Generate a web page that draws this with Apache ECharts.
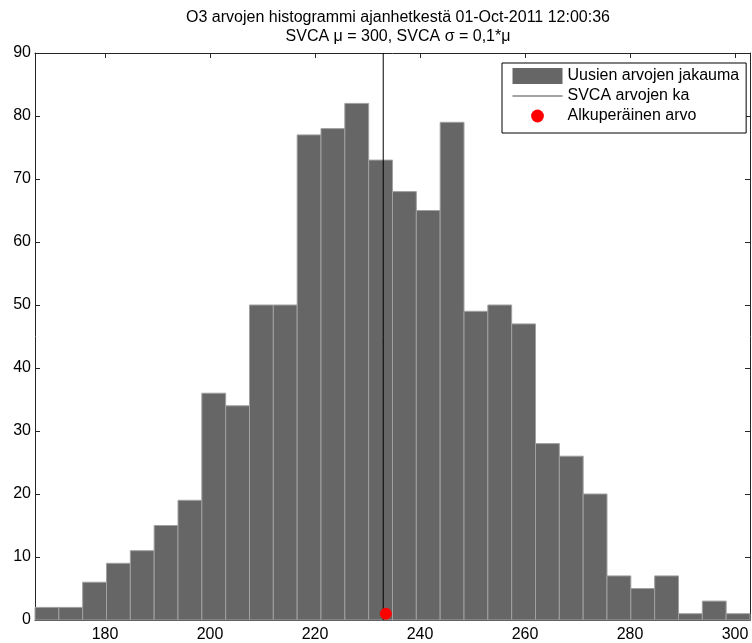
<!DOCTYPE html>
<html><head><meta charset="utf-8">
<script src="https://cdn.jsdelivr.net/npm/echarts@6/dist/echarts.min.js"></script>
<style>html,body{margin:0;padding:0;background:#fff}#c{width:752px;height:643px}</style>
</head><body><div id="c"></div>
<script>
// Histogram: data range (axis tight to min/max of the values), 30 bins
const dataMin = 166.67;
const dataMax = 302.86;
const counts = [2, 2, 6, 9, 11, 15, 19, 36, 34, 50, 50, 77, 78, 82, 73, 68, 65, 79, 49, 50, 47, 28, 26, 20, 7, 5, 7, 1, 3, 1];
const meanValue = 233.0;
const originalValue = [233.5, 1];
const xTickValues = [180, 200, 220, 240, 260, 280, 300];
const yMax = 90;
const yStep = 10;
const titleLines = ['O3 arvojen histogrammi ajanhetkestä 01-Oct-2011 12:00:36', 'SVCA \u03bc = 300, SVCA \u03c3 = 0,1*\u03bc'];
const legendNames = ['Uusien arvojen jakauma', 'SVCA arvojen ka', 'Alkuperäinen arvo'];

const binW = (dataMax - dataMin) / counts.length;
const histData = counts.map((c, i) => [dataMin + i * binW, dataMin + (i + 1) * binW, c]);

const FONT = 'Liberation Sans, Arial, sans-serif';
const AX = '#262626';
const chart = echarts.init(document.getElementById('c'));
const baseX = {
  type: 'value', min: dataMin, max: dataMax,
  axisLine: { show: true, onZero: false, lineStyle: { color: AX, width: 1 } },
  axisTick: { show: true, inside: true, length: 5, customValues: xTickValues, lineStyle: { color: AX } },
  splitLine: { show: false }
};
const baseY = {
  type: 'value', min: 0, max: yMax, interval: yStep,
  axisLine: { show: true, onZero: false, lineStyle: { color: AX, width: 1 } },
  axisTick: { show: true, inside: true, length: 5, lineStyle: { color: AX } },
  splitLine: { show: false }
};
chart.setOption({
  animation: false,
  backgroundColor: '#fff',
  title: {
    text: titleLines.join('\n'),
    left: 393, top: 3, textAlign: 'center',
    textStyle: { fontFamily: FONT, fontSize: 16, fontWeight: 'normal', color: '#000', lineHeight: 19 }
  },
  grid: { left: 35, right: 2, top: 53, bottom: 23, containLabel: false },
  legend: {
    orient: 'vertical', left: 502, top: 63,
    backgroundColor: '#fff', borderColor: '#000', borderWidth: 1, borderRadius: 0,
    padding: [5, 7, 9, 10], itemGap: 4, itemWidth: 50, itemHeight: 16,
    textStyle: { fontFamily: FONT, fontSize: 16, color: '#000' },
    data: [
      { name: legendNames[0], icon: 'rect' },
      { name: legendNames[1], itemStyle: { opacity: 0 }, lineStyle: { width: 1, color: '#444' } },
      { name: legendNames[2] }
    ],
    selectedMode: false
  },
  xAxis: [
    Object.assign({}, baseX, {
      position: 'bottom',
      axisLabel: { show: true, customValues: xTickValues, margin: 7, fontFamily: FONT, fontSize: 16, color: '#000' }
    }),
    Object.assign({}, baseX, { position: 'top', axisLabel: { show: false } })
  ],
  yAxis: [
    Object.assign({}, baseY, {
      position: 'left',
      axisLabel: { show: true, margin: 4, fontFamily: FONT, fontSize: 16, color: '#000' }
    }),
    Object.assign({}, baseY, { position: 'right', axisLabel: { show: false } })
  ],
  series: [
    {
      name: legendNames[0], type: 'custom', xAxisIndex: 0, yAxisIndex: 0,
      itemStyle: { color: '#666666' },
      encode: { x: [0, 1], y: 2 },
      data: histData,
      renderItem: function (params, api) {
        const p0 = api.coord([api.value(0), 0]);
        const p1 = api.coord([api.value(1), api.value(2)]);
        return {
          type: 'rect',
          shape: { x: p0[0], y: p1[1], width: p1[0] - p0[0], height: p0[1] - p1[1] },
          style: { fill: '#666666', stroke: '#a0a0a0', lineWidth: 1 }
        };
      },
      z: 2
    },
    {
      name: legendNames[1], type: 'line', symbol: 'none',
      data: [[meanValue, 0], [meanValue, yMax]],
      lineStyle: { color: '#000', width: 1 }, itemStyle: { color: '#000' },
      z: 3
    },
    {
      name: legendNames[2], type: 'line', symbol: 'circle', symbolSize: 12,
      data: [originalValue],
      itemStyle: { color: '#ff0000' },
      lineStyle: { width: 0, opacity: 0 },
      z: 4
    }
  ]
});
</script></body></html>
